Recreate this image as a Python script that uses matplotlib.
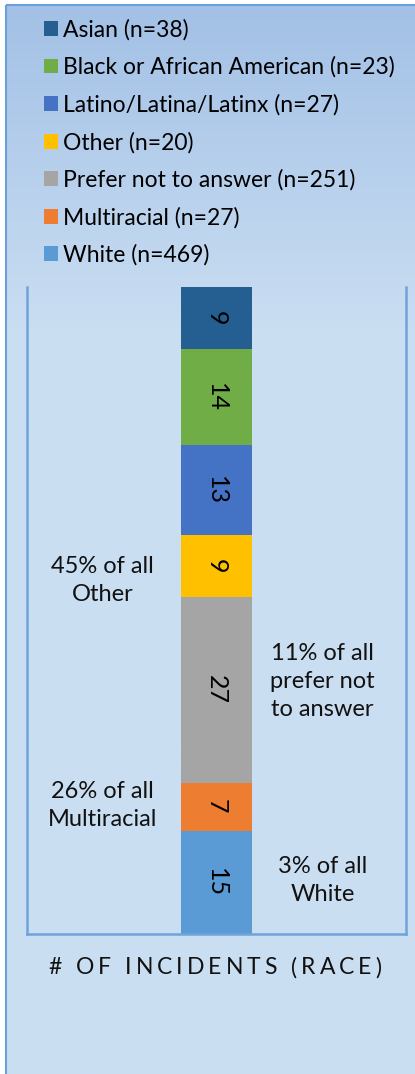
import numpy as np
import matplotlib.pyplot as plt
from matplotlib.colors import to_rgb
from matplotlib.patches import Rectangle

plt.rcParams['font.family'] = ['Lato', 'DejaVu Sans']

# stacked from the bottom up
races = ['White', 'Multiracial', 'Prefer not to answer', 'Other',
         'Latino/Latina/Latinx', 'Black or African American', 'Asian']
group_n = [469, 27, 251, 20, 27, 23, 38]
incidents = [15, 7, 27, 9, 13, 14, 9]
colors = ['#5b9bd5', '#ed7d31', '#a5a5a5', '#ffc000',
          '#4472c4', '#70ad47', '#255e91']

share_notes = ['3% of all\nWhite', '26% of all\nMultiracial',
               '11% of all\nprefer not\nto answer', '45% of all\nOther']
note_race = ['White', 'Multiracial', 'Prefer not to answer', 'Other']
note_side = ['right', 'left', 'right', 'left']

title = '# OF INCIDENTS (RACE)'

W, H = 415, 1074
fig = plt.figure(figsize=(W / 100, H / 100), dpi=100)
fig.patch.set_facecolor('white')

# background: light blue gradient inside the chart frame
bg = fig.add_axes([0, 0, 1, 1], zorder=-2)
bg.set_xlim(0, W)
bg.set_ylim(H, 0)
bg.axis('off')
top_c = np.array(to_rgb('#a3c1e6'))
low_c = np.array(to_rgb('#cadef2'))
rows = np.arange(H)
t = np.clip((rows - 5) / 320, 0, 1)[:, None]
grad = top_c * (1 - t) + low_c * t
img = np.repeat(grad[:, None, :], 2, axis=1)
bg.imshow(img, extent=[6, W + 2, H + 2, 5], aspect='auto', interpolation='bilinear')
bg.add_patch(Rectangle((6, 5), W, H, fill=False, edgecolor='#6a9fd8', lw=1.5))

# plot area
px_l, px_r, px_t, px_b = 27, 406, 287, 934
ax = fig.add_axes([px_l / W, (H - px_b) / H, (px_r - px_l) / W, (px_b - px_t) / H])
ax.patch.set_alpha(0)
ax.set_xlim(-0.5, 0.5)
ax.set_ylim(0, sum(incidents))
for side in ['left', 'right', 'bottom']:
    ax.spines[side].set_color('#6fa3db')
    ax.spines[side].set_linewidth(1.8)
ax.spines['top'].set_visible(False)
ax.set_xticks([])
ax.set_yticks([])

bottom = 0
handles = {}
for race, n, v, c in zip(races, group_n, incidents, colors):
    bars = ax.bar(0, v, bottom=bottom, width=0.185, color=c,
                  label=f'{race} (n={n})')
    handles[race] = bars
    ax.bar_label(bars, labels=[str(v)], label_type='center', rotation=-90,
                 fontsize=18, color='black')
    bottom += v

# share annotations next to the bar
mids = {}
acc = 0
for race, v in zip(races, incidents):
    mids[race] = acc + v / 2
    acc += v
px_per_unit = (px_b - px_t) / sum(incidents)
shift_px = {'White': 2, 'Multiracial': 1.5, 'Prefer not to answer': 8, 'Other': -14.5}
for note, race, side in zip(share_notes, note_race, note_side):
    x = -0.3 if side == 'left' else 0.28
    y = mids[race] + shift_px[race] / px_per_unit
    ax.text(x, y, note, ha='center', va='center', fontsize=17,
            linespacing=1.42, color='#111111')

order = races[::-1]
leg = fig.legend([handles[r] for r in order],
                 [f'{r} (n={n})' for r, n in zip(races[::-1], group_n[::-1])],
                 loc='upper left', bbox_to_anchor=(44 / W, 1 - 19 / H),
                 frameon=False, fontsize=16.5, labelspacing=0.7,
                 handlelength=0.62, handleheight=0.62, handletextpad=0.2,
                 borderpad=0, borderaxespad=0)

# letter-spaced category title under the axis
fig.canvas.draw()
renderer = fig.canvas.get_renderer()
tsize = 16.5
widths = []
for ch in title:
    if ch == ' ':
        widths.append(6.0)
        continue
    tt = fig.text(0, 0, ch, fontsize=tsize)
    widths.append(tt.get_window_extent(renderer).width)
    tt.remove()
track = 4.0
total = sum(widths) + track * (len(title) - 1)
x0 = 215 - total / 2
for ch, w in zip(title, widths):
    if ch != ' ':
        fig.text(x0 / W, 1 - 968 / H, ch, fontsize=tsize, ha='left',
                 va='center', color='#111111')
    x0 += w + track

fig.savefig('out.png', dpi=100)
